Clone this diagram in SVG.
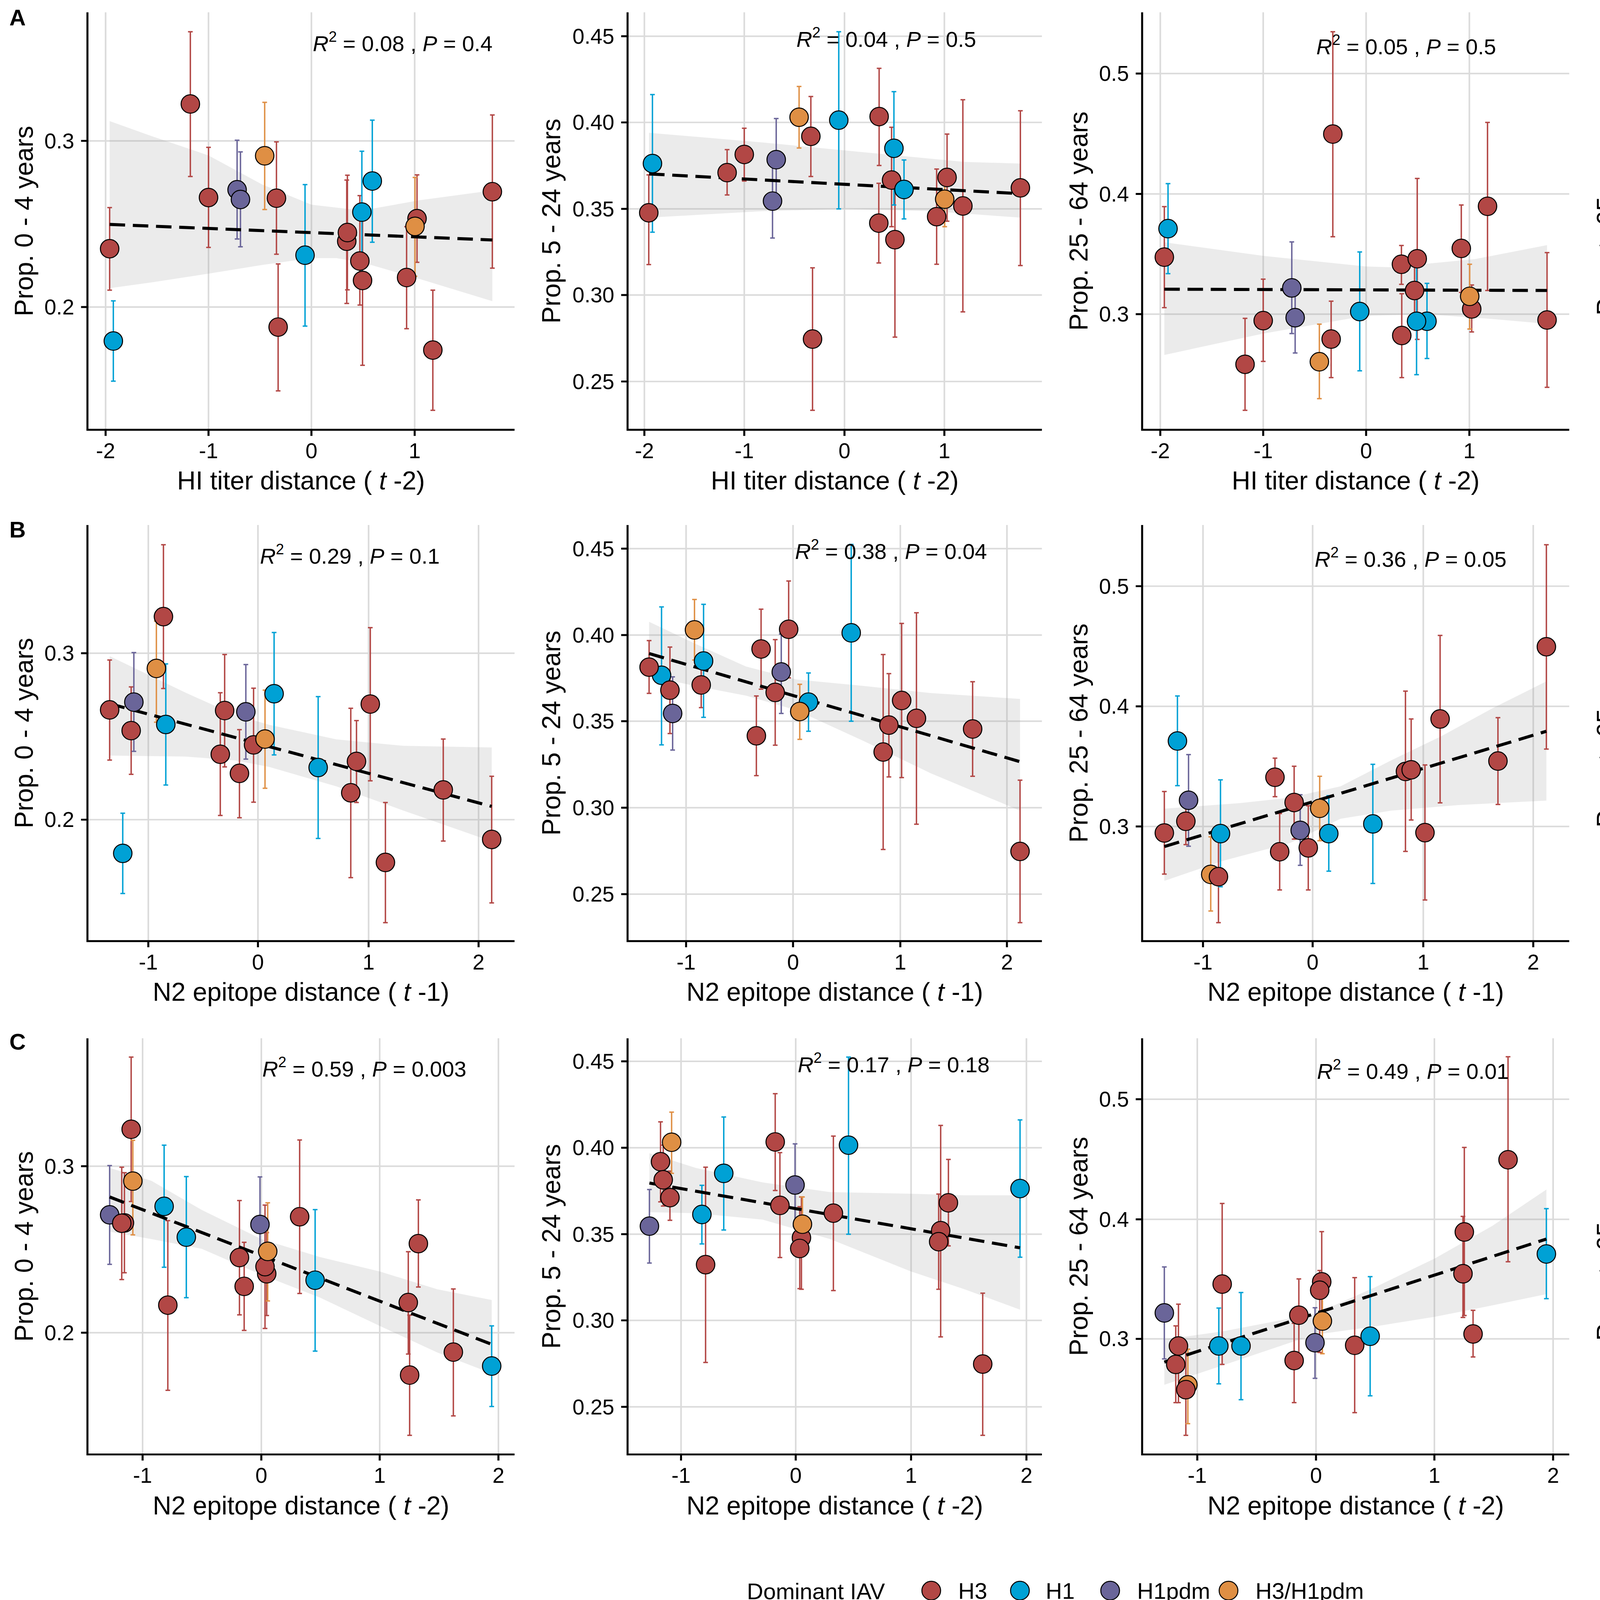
<svg xmlns="http://www.w3.org/2000/svg" xmlns:xlink="http://www.w3.org/1999/xlink" width="5400" height="4200" viewBox="0 0 5400 4200">
<style>
text{font-family:"Liberation Sans",Arial,Helvetica,sans-serif;fill:#000}
.ty{font-size:55px;text-anchor:end}
.tx{font-size:55px;text-anchor:middle}
.xt{font-size:66px;text-anchor:middle}
.yt{font-size:66px;text-anchor:middle}
.an{font-size:56px}
.lab{font-size:58px;font-weight:bold}
.lg{font-size:58px}
.grid{stroke:#DBDBDB;stroke-width:4.8;fill:none}
.axis{stroke:#000;stroke-width:6;fill:none}
.rib{fill:#999999;fill-opacity:0.2;stroke:none}
.fit{stroke:#000;stroke-width:9.5;stroke-dasharray:46 23;fill:none}
.er,.eb,.ep,.eo{stroke-width:4.2;fill:none}
.er{stroke:#B24745;marker:url(#capR)}
.eb{stroke:#00A1D5;marker:url(#capB)}
.ep{stroke:#6A6599;marker:url(#capP)}
.eo{stroke:#DF8F44;marker:url(#capO)}
.r{fill:#B24745}.b{fill:#00A1D5}.p{fill:#6A6599}.o{fill:#DF8F44}
</style>
<defs>
<ellipse id="pt" rx="27.5" ry="28.6" stroke="#000" stroke-width="3"/>
<marker id="capR" markerUnits="userSpaceOnUse" orient="0" overflow="visible" markerWidth="1" markerHeight="1"><path d="M-7,0H7" stroke="#B24745" stroke-width="4.2"/></marker>
<marker id="capB" markerUnits="userSpaceOnUse" orient="0" overflow="visible" markerWidth="1" markerHeight="1"><path d="M-7,0H7" stroke="#00A1D5" stroke-width="4.2"/></marker>
<marker id="capP" markerUnits="userSpaceOnUse" orient="0" overflow="visible" markerWidth="1" markerHeight="1"><path d="M-7,0H7" stroke="#6A6599" stroke-width="4.2"/></marker>
<marker id="capO" markerUnits="userSpaceOnUse" orient="0" overflow="visible" markerWidth="1" markerHeight="1"><path d="M-7,0H7" stroke="#DF8F44" stroke-width="4.2"/></marker>
</defs>
<rect width="5400" height="4200" fill="#fff"/>

<text class="lab" x="24" y="65">A</text>
<text class="lab" x="24" y="1376">B</text>
<text class="lab" x="24" y="2687">C</text>

<!-- ===== Row A ===== -->
<g id="A1" transform="translate(0,0)">
<g transform="scale(0.86096,0.82905)">
<path class="grid" d="M314,38V1327M620,38V1327M926,38V1327M1233,38V1327M260,435H1530M260,948H1530"/>
<polygon class="rib" points="326,374 450,420 620,480 780,570 926,632 1076,650 1250,618 1464,588 1464,930 1250,862 1076,810 1000,797 926,797 780,818 620,845 450,872 326,890"/>
<path class="er" d="M326,641V896M566,98V545M620,455V764M822,438V785M827,815V1207M1031,556V937M1033,541V895M1070,604V942M1078,660V1128M1209,700V1015M1240,540V810M1287,896V1267M1464,355V828"/>
<path class="eb" d="M337,929V1177M907,570V1007M1076,467V840M1107,371V748"/>
<path class="ep" d="M705,433V738M715,469V762"/>
<path class="eo" d="M787,316V647M1234,548V853"/>
<path class="fit" d="M326,693L1464,741"/>
<use href="#pt" x="326" y="768" class="r"/><use href="#pt" x="337" y="1053" class="b"/><use href="#pt" x="566" y="321" class="r"/><use href="#pt" x="620" y="610" class="r"/><use href="#pt" x="705" y="586" class="p"/><use href="#pt" x="715" y="616" class="p"/><use href="#pt" x="787" y="481" class="o"/><use href="#pt" x="822" y="612" class="r"/><use href="#pt" x="827" y="1010" class="r"/><use href="#pt" x="907" y="788" class="b"/><use href="#pt" x="1031" y="745" class="r"/><use href="#pt" x="1033" y="718" class="r"/><use href="#pt" x="1070" y="806" class="r"/><use href="#pt" x="1078" y="866" class="r"/><use href="#pt" x="1076" y="655" class="b"/><use href="#pt" x="1107" y="559" class="b"/><use href="#pt" x="1209" y="857" class="r"/><use href="#pt" x="1240" y="675" class="r"/><use href="#pt" x="1234" y="699" class="o"/><use href="#pt" x="1287" y="1081" class="r"/><use href="#pt" x="1464" y="592" class="r"/>
<path class="axis" d="M260,38V1327H1530M241,435h19M241,948h19M314,1327v19M620,1327v19M926,1327v19M1233,1327v19"/>
</g>
<text class="ty" x="190" y="379.6">0.3</text><text class="ty" x="190" y="804.9">0.2</text>
<text class="tx" x="270.3" y="1173">-2</text><text class="tx" x="533.8" y="1173">-1</text><text class="tx" x="797.3" y="1173">0</text><text class="tx" x="1061.6" y="1173">1</text>
<text class="xt" x="770.6" y="1253">HI titer distance ( <tspan font-style="italic">t</tspan> -2)</text>
<text class="yt" transform="translate(83.5,565.9) rotate(-90)">Prop. 0 - 4 years</text>
<text class="an" x="800.7" y="131"><tspan font-style="italic">R</tspan><tspan dy="-24" font-size="38">2</tspan><tspan dy="24"> = 0.08 , </tspan><tspan font-style="italic">P</tspan><tspan> = 0.4</tspan></text>
</g>

<g id="A2" transform="translate(1350,0)">
<g transform="scale(0.86096,0.82905)">
<path class="grid" d="M348,38V1327M645,38V1327M943,38V1327M1240,38V1327M298,112H1530M298,378H1530M298,645H1530M298,911H1530M298,1178H1530"/>
<polygon class="rib" points="362,410 700,440 1000,470 1300,500 1466,505 1466,672 1200,652 950,645 700,652 362,672"/>
<path class="er" d="M361,540V817M594,462V602M645,396V559M843,298V545M848,827V1267M1046,211V511M1045,566V812M1083,393V700M1093,560V1041M1217,522V816M1248,414V683M1295,308V963M1466,342V820"/>
<path class="eb" d="M372,292V717M926,98V645M1090,283V633M1120,494V676"/>
<path class="ep" d="M740,366V610M729,510V735"/>
<path class="eo" d="M808,267V457M1241,540V700"/>
<path class="fit" d="M362,537L1466,598"/>
<use href="#pt" x="361" y="657" class="r"/><use href="#pt" x="372" y="505" class="b"/><use href="#pt" x="594" y="533" class="r"/><use href="#pt" x="645" y="477" class="r"/><use href="#pt" x="729" y="621" class="p"/><use href="#pt" x="740" y="493" class="p"/><use href="#pt" x="808" y="362" class="o"/><use href="#pt" x="843" y="421" class="r"/><use href="#pt" x="848" y="1047" class="r"/><use href="#pt" x="926" y="371" class="b"/><use href="#pt" x="1046" y="360" class="r"/><use href="#pt" x="1045" y="689" class="r"/><use href="#pt" x="1083" y="556" class="r"/><use href="#pt" x="1090" y="458" class="b"/><use href="#pt" x="1093" y="740" class="r"/><use href="#pt" x="1120" y="585" class="b"/><use href="#pt" x="1217" y="669" class="r"/><use href="#pt" x="1248" y="548" class="r"/><use href="#pt" x="1241" y="615" class="o"/><use href="#pt" x="1295" y="636" class="r"/><use href="#pt" x="1466" y="580" class="r"/>
<path class="axis" d="M298,38V1327H1530M279,112h19M279,378h19M279,645h19M279,911h19M279,1178h19M348,1327v19M645,1327v19M943,1327v19M1240,1327v19"/>
</g>
<text class="ty" x="222.6" y="111.9">0.45</text><text class="ty" x="222.6" y="332.4">0.40</text><text class="ty" x="222.6" y="553.7">0.35</text><text class="ty" x="222.6" y="774.3">0.30</text><text class="ty" x="222.6" y="995.6">0.25</text>
<text class="tx" x="299.6" y="1173">-2</text><text class="tx" x="555.3" y="1173">-1</text><text class="tx" x="811.9" y="1173">0</text><text class="tx" x="1067.6" y="1173">1</text>
<text class="xt" x="787" y="1253">HI titer distance ( <tspan font-style="italic">t</tspan> -2)</text>
<text class="yt" transform="translate(83.5,565.9) rotate(-90)">Prop. 5 - 24 years</text>
<text class="an" x="688.8" y="120.2"><tspan font-style="italic">R</tspan><tspan dy="-24" font-size="38">2</tspan><tspan dy="24"> = 0.04 , </tspan><tspan font-style="italic">P</tspan><tspan> = 0.5</tspan></text>
</g>

<g id="A3" transform="translate(2700,0)">
<g transform="scale(0.86096,0.82905)">
<path class="grid" d="M314,38V1327M620,38V1327M926,38V1327M1233,38V1327M260,227H1530M260,599H1530M260,970H1530"/>
<polygon class="rib" points="326,748 620,790 926,823 1000,825 1250,800 1464,757 1464,1000 1300,985 1100,970 926,975 620,1030 326,1096"/>
<path class="er" d="M326,638V950M566,983V1267M620,862V1116M822,930V1166M827,98V731M1031,758V878M1032,907V1166M1078,551V1048M1070,780V1010M1209,633V903M1240,880V1025M1287,378V897M1464,780V1196"/>
<path class="eb" d="M337,567V845M907,778V1145M1076,820V1157M1107,875V1107"/>
<path class="ep" d="M705,747V1030M715,890V1090"/>
<path class="eo" d="M787,1001V1231M1234,816V1016"/>
<path class="fit" d="M326,893L1464,897"/>
<use href="#pt" x="326" y="794" class="r"/><use href="#pt" x="337" y="706" class="b"/><use href="#pt" x="566" y="1125" class="r"/><use href="#pt" x="620" y="990" class="r"/><use href="#pt" x="705" y="889" class="p"/><use href="#pt" x="715" y="981" class="p"/><use href="#pt" x="787" y="1117" class="o"/><use href="#pt" x="822" y="1047" class="r"/><use href="#pt" x="827" y="414" class="r"/><use href="#pt" x="907" y="962" class="b"/><use href="#pt" x="1031" y="816" class="r"/><use href="#pt" x="1032" y="1036" class="r"/><use href="#pt" x="1078" y="799" class="r"/><use href="#pt" x="1070" y="897" class="r"/><use href="#pt" x="1107" y="992" class="b"/><use href="#pt" x="1076" y="992" class="b"/><use href="#pt" x="1209" y="767" class="r"/><use href="#pt" x="1240" y="954" class="r"/><use href="#pt" x="1234" y="915" class="o"/><use href="#pt" x="1287" y="637" class="r"/><use href="#pt" x="1464" y="988" class="r"/>
<path class="axis" d="M260,38V1327H1530M241,227h19M241,599h19M241,970h19M314,1327v19M620,1327v19M926,1327v19M1233,1327v19"/>
</g>
<text class="ty" x="190" y="207.2">0.5</text><text class="ty" x="190" y="515.6">0.4</text><text class="ty" x="190" y="823.2">0.3</text>
<text class="tx" x="270.3" y="1173">-2</text><text class="tx" x="533.8" y="1173">-1</text><text class="tx" x="797.3" y="1173">0</text><text class="tx" x="1061.6" y="1173">1</text>
<text class="xt" x="770.6" y="1253">HI titer distance ( <tspan font-style="italic">t</tspan> -2)</text>
<text class="yt" transform="translate(83.5,565.9) rotate(-90)">Prop. 25 - 64 years</text>
<text class="an" x="669.8" y="139.3"><tspan font-style="italic">R</tspan><tspan dy="-24" font-size="38">2</tspan><tspan dy="24"> = 0.05 , </tspan><tspan font-style="italic">P</tspan><tspan> = 0.5</tspan></text>
</g>

<g id="A4" transform="translate(4050,0)">
<g transform="scale(0.86096,0.82905)">
<path class="grid" d="M348,38V1327M645,38V1327M943,38V1327M1240,38V1327M298,123H1530M298,420H1530M298,718H1530M298,1016H1530M298,1313H1530"/>
<polygon class="rib" points="362,938 700,910 943,880 1100,830 1300,720 1466,635 1466,870 1300,895 1100,940 943,985 800,1030 600,1090 362,1160"/>
<path class="er" d="M361,751V1089M594,997V1267M645,926V1152M848,497V870M843,869V1096M1046,648V1062M1046,780V1028M1083,594V943M1092,98V1028M1217,588V1010M1248,711V1043M1294,388V1161M1466,668V1096"/>
<path class="eb" d="M372,704V1080M926,725V1208M1090,804V1161M1120,779V1083"/>
<path class="ep" d="M740,873V1165M729,987V1189"/>
<path class="eo" d="M808,1073V1247M1241,646V968"/>
<path class="fit" d="M362,1038L1466,780"/>
<use href="#pt" x="372" y="891" class="b"/><use href="#pt" x="361" y="919" class="r"/><use href="#pt" x="594" y="1132" class="r"/><use href="#pt" x="645" y="1038" class="r"/><use href="#pt" x="740" y="1018" class="p"/><use href="#pt" x="729" y="1087" class="p"/><use href="#pt" x="808" y="1160" class="o"/><use href="#pt" x="848" y="743" class="r"/><use href="#pt" x="843" y="982" class="r"/><use href="#pt" x="926" y="966" class="b"/><use href="#pt" x="1046" y="839" class="r"/><use href="#pt" x="1046" y="919" class="r"/><use href="#pt" x="1083" y="761" class="r"/><use href="#pt" x="1092" y="563" class="r"/><use href="#pt" x="1090" y="983" class="b"/><use href="#pt" x="1120" y="931" class="b"/><use href="#pt" x="1217" y="797" class="r"/><use href="#pt" x="1241" y="807" class="o"/><use href="#pt" x="1248" y="877" class="r"/><use href="#pt" x="1294" y="775" class="r"/><use href="#pt" x="1466" y="882" class="r"/>
<path class="axis" d="M298,38V1327H1530M279,123h19M279,420h19M279,718h19M279,1016h19M279,1313h19M348,1327v19M645,1327v19M943,1327v19M1240,1327v19"/>
</g>
<text class="ty" x="222.6" y="121">0.15</text><text class="ty" x="222.6" y="367.2">0.12</text><text class="ty" x="222.6" y="614.3">0.09</text><text class="ty" x="222.6" y="861.3">0.06</text><text class="ty" x="222.6" y="1107.5">0.03</text>
<text class="tx" x="299.6" y="1173">-2</text><text class="tx" x="555.3" y="1173">-1</text><text class="tx" x="811.9" y="1173">0</text><text class="tx" x="1067.6" y="1173">1</text>
<text class="xt" x="787" y="1253">HI titer distance ( <tspan font-style="italic">t</tspan> -2)</text>
<text class="yt" transform="translate(83.5,565.9) rotate(-90)">Prop. ≥ 65 years</text>
<text class="an" x="688.8" y="128.5"><tspan font-style="italic">R</tspan><tspan dy="-24" font-size="38">2</tspan><tspan dy="24"> = 0.26 , </tspan><tspan font-style="italic">P</tspan><tspan> = 0.03</tspan></text>
</g>

<!-- ===== Row B ===== -->
<g id="B1" transform="translate(0,1300)">
<g transform="scale(0.86096,0.82905)">
<path class="grid" d="M441,53V1338M767,53V1338M1096,53V1338M1423,53V1338M260,449H1530M260,963H1530"/>
<polygon class="rib" points="326,458 550,570 700,640 800,670 1000,715 1200,735 1462,740 1462,1030 1200,935 1000,860 800,800 700,780 550,768 326,765"/>
<path class="er" d="M326,470V779M390,553V823M486,114V558M655,571V950M668,453V800M712,685V957M754,557V909M1043,619V1142M1060,657V910M1101,370V843M1146,910V1281M1318,714V1029M1462,829V1220"/>
<path class="eb" d="M365,943V1191M493,482V856M815,385V763M946,583V1021"/>
<path class="ep" d="M398,447V752M731,484V776"/>
<path class="eo" d="M465,350V662M788,563V866"/>
<path class="fit" d="M326,605L1462,922"/>
<use href="#pt" x="326" y="624" class="r"/><use href="#pt" x="365" y="1067" class="b"/><use href="#pt" x="390" y="688" class="r"/><use href="#pt" x="398" y="600" class="p"/><use href="#pt" x="465" y="496" class="o"/><use href="#pt" x="486" y="336" class="r"/><use href="#pt" x="493" y="669" class="b"/><use href="#pt" x="655" y="761" class="r"/><use href="#pt" x="668" y="626" class="r"/><use href="#pt" x="712" y="820" class="r"/><use href="#pt" x="731" y="630" class="p"/><use href="#pt" x="754" y="732" class="r"/><use href="#pt" x="788" y="714" class="o"/><use href="#pt" x="815" y="574" class="b"/><use href="#pt" x="946" y="802" class="b"/><use href="#pt" x="1043" y="880" class="r"/><use href="#pt" x="1060" y="783" class="r"/><use href="#pt" x="1101" y="606" class="r"/><use href="#pt" x="1146" y="1095" class="r"/><use href="#pt" x="1318" y="871" class="r"/><use href="#pt" x="1462" y="1024" class="r"/>
<path class="axis" d="M260,53V1338H1530M241,449h19M241,963h19M441,1338v19M767,1338v19M1096,1338v19M1423,1338v19"/>
</g>
<text class="ty" x="190" y="391.2">0.3</text><text class="ty" x="190" y="817.4">0.2</text>
<text class="tx" x="379.7" y="1182.3">-1</text><text class="tx" x="660.4" y="1182.3">0</text><text class="tx" x="943.6" y="1182.3">1</text><text class="tx" x="1225.1" y="1182.3">2</text>
<text class="xt" x="770.6" y="1262">N2 epitope distance ( <tspan font-style="italic">t</tspan> -1)</text>
<text class="yt" transform="translate(83.5,576.6) rotate(-90)">Prop. 0 - 4 years</text>
<text class="an" x="665.5" y="142.6"><tspan font-style="italic">R</tspan><tspan dy="-24" font-size="38">2</tspan><tspan dy="24"> = 0.29 , </tspan><tspan font-style="italic">P</tspan><tspan> = 0.1</tspan></text>
</g>

<g id="B2" transform="translate(1350,1300)">
<g transform="scale(0.86096,0.82905)">
<path class="grid" d="M472,53V1338M790,53V1338M1109,53V1338M1426,53V1338M298,126H1530M298,393H1530M298,659H1530M298,926H1530M298,1193H1530"/>
<polygon class="rib" points="362,352 500,420 650,490 800,530 1000,550 1200,572 1465,590 1465,935 1200,820 1000,720 800,625 650,580 500,550 362,520"/>
<path class="er" d="M362,410V573M424,430V697M517,470V617M681,581V827M695,313V560M737,407V733M777,226V525M1058,453V1055M1075,512V831M1113,357V833M1157,324V977M1324,537V829M1465,841V1281"/>
<path class="eb" d="M399,306V732M524,298V647M836,510V690M963,113V659"/>
<path class="ep" d="M432,522V748M755,390V635"/>
<path class="eo" d="M497,283V470M810,545V715"/>
<path class="fit" d="M362,450L1465,784"/>
<use href="#pt" x="399" y="517" class="b"/><use href="#pt" x="362" y="492" class="r"/><use href="#pt" x="424" y="563" class="r"/><use href="#pt" x="432" y="635" class="p"/><use href="#pt" x="497" y="377" class="o"/><use href="#pt" x="524" y="473" class="b"/><use href="#pt" x="517" y="547" class="r"/><use href="#pt" x="681" y="704" class="r"/><use href="#pt" x="695" y="436" class="r"/><use href="#pt" x="737" y="570" class="r"/><use href="#pt" x="755" y="507" class="p"/><use href="#pt" x="777" y="375" class="r"/><use href="#pt" x="836" y="600" class="b"/><use href="#pt" x="810" y="629" class="o"/><use href="#pt" x="963" y="386" class="b"/><use href="#pt" x="1058" y="754" class="r"/><use href="#pt" x="1075" y="671" class="r"/><use href="#pt" x="1113" y="595" class="r"/><use href="#pt" x="1157" y="650" class="r"/><use href="#pt" x="1324" y="683" class="r"/><use href="#pt" x="1465" y="1061" class="r"/>
<path class="axis" d="M298,53V1338H1530M279,126h19M279,393h19M279,659h19M279,926h19M279,1193h19M472,1338v19M790,1338v19M1109,1338v19M1426,1338v19"/>
</g>
<text class="ty" x="222.6" y="123.5">0.45</text><text class="ty" x="222.6" y="344.8">0.40</text><text class="ty" x="222.6" y="565.3">0.35</text><text class="ty" x="222.6" y="786.7">0.30</text><text class="ty" x="222.6" y="1008.1">0.25</text>
<text class="tx" x="406.4" y="1182.3">-1</text><text class="tx" x="680.2" y="1182.3">0</text><text class="tx" x="954.8" y="1182.3">1</text><text class="tx" x="1227.7" y="1182.3">2</text>
<text class="xt" x="787" y="1262">N2 epitope distance ( <tspan font-style="italic">t</tspan> -1)</text>
<text class="yt" transform="translate(83.5,576.6) rotate(-90)">Prop. 5 - 24 years</text>
<text class="an" x="685.3" y="131"><tspan font-style="italic">R</tspan><tspan dy="-24" font-size="38">2</tspan><tspan dy="24"> = 0.38 , </tspan><tspan font-style="italic">P</tspan><tspan> = 0.04</tspan></text>
</g>

<g id="B3" transform="translate(2700,1300)">
<g transform="scale(0.86096,0.82905)">
<path class="grid" d="M441,53V1338M767,53V1338M1096,53V1338M1423,53V1338M260,242H1530M260,613H1530M260,984H1530"/>
<polygon class="rib" points="326,929 550,912 700,895 850,860 1000,780 1150,705 1300,620 1462,536 1462,904 1200,918 1000,935 850,960 700,1035 500,1090 326,1152"/>
<path class="er" d="M326,876V1131M390,880V1040M487,1030V1281M655,773V892M669,944V1180M712,798V1023M754,920V1180M1043,566V1061M1060,652V964M1101,794V1211M1146,394V911M1318,648V916M1462,114V745"/>
<path class="eb" d="M365,581V858M493,840V1170M815,889V1122M946,792V1160"/>
<path class="ep" d="M398,762V1045M730,886V1104"/>
<path class="eo" d="M464,1016V1245M788,829V1028"/>
<path class="fit" d="M326,1046L1462,690"/>
<use href="#pt" x="326" y="1004" class="r"/><use href="#pt" x="365" y="720" class="b"/><use href="#pt" x="398" y="903" class="p"/><use href="#pt" x="390" y="968" class="r"/><use href="#pt" x="464" y="1132" class="o"/><use href="#pt" x="487" y="1139" class="r"/><use href="#pt" x="493" y="1006" class="b"/><use href="#pt" x="655" y="832" class="r"/><use href="#pt" x="669" y="1062" class="r"/><use href="#pt" x="712" y="910" class="r"/><use href="#pt" x="730" y="996" class="p"/><use href="#pt" x="754" y="1050" class="r"/><use href="#pt" x="788" y="928" class="o"/><use href="#pt" x="815" y="1006" class="b"/><use href="#pt" x="946" y="976" class="b"/><use href="#pt" x="1043" y="814" class="r"/><use href="#pt" x="1060" y="809" class="r"/><use href="#pt" x="1101" y="1003" class="r"/><use href="#pt" x="1146" y="652" class="r"/><use href="#pt" x="1318" y="782" class="r"/><use href="#pt" x="1462" y="429" class="r"/>
<path class="axis" d="M260,53V1338H1530M241,242h19M241,613h19M241,984h19M441,1338v19M767,1338v19M1096,1338v19M1423,1338v19"/>
</g>
<text class="ty" x="190" y="219.6">0.5</text><text class="ty" x="190" y="527.2">0.4</text><text class="ty" x="190" y="834.8">0.3</text>
<text class="tx" x="379.7" y="1182.3">-1</text><text class="tx" x="660.4" y="1182.3">0</text><text class="tx" x="943.6" y="1182.3">1</text><text class="tx" x="1225.1" y="1182.3">2</text>
<text class="xt" x="770.6" y="1262">N2 epitope distance ( <tspan font-style="italic">t</tspan> -1)</text>
<text class="yt" transform="translate(83.5,576.6) rotate(-90)">Prop. 25 - 64 years</text>
<text class="an" x="665.5" y="150.9"><tspan font-style="italic">R</tspan><tspan dy="-24" font-size="38">2</tspan><tspan dy="24"> = 0.36 , </tspan><tspan font-style="italic">P</tspan><tspan> = 0.05</tspan></text>
</g>

<g id="B4" transform="translate(4050,1300)">
<g transform="scale(0.86096,0.82905)">
<path class="grid" d="M472,53V1338M790,53V1338M1109,53V1338M1426,53V1338M298,138H1530M298,435H1530M298,733H1530M298,1031H1530M298,1328H1530"/>
<polygon class="rib" points="362,960 600,935 800,890 1000,800 1200,690 1465,567 1465,813 1200,862 1000,925 800,985 600,1040 362,1103"/>
<path class="er" d="M362,940V1166M424,725V1058M517,1030V1281M681,662V1043M695,884V1110M737,595V958M777,793V1076M1058,113V1041M1075,766V1103M1113,682V1110M1157,404V1174M1324,601V1023M1465,511V1003"/>
<path class="eb" d="M399,717V1093M524,820V1150M836,793V1098M964,740V1222"/>
<path class="ep" d="M432,1001V1202M755,886V1179"/>
<path class="eo" d="M497,1086V1261M810,660V983"/>
<path class="fit" d="M362,1030L1465,720"/>
<use href="#pt" x="362" y="1053" class="r"/><use href="#pt" x="399" y="905" class="b"/><use href="#pt" x="424" y="891" class="r"/><use href="#pt" x="432" y="1102" class="p"/><use href="#pt" x="497" y="1175" class="o"/><use href="#pt" x="517" y="1147" class="r"/><use href="#pt" x="524" y="998" class="b"/><use href="#pt" x="681" y="852" class="r"/><use href="#pt" x="695" y="997" class="r"/><use href="#pt" x="737" y="776" class="r"/><use href="#pt" x="755" y="1033" class="p"/><use href="#pt" x="777" y="934" class="r"/><use href="#pt" x="810" y="821" class="o"/><use href="#pt" x="836" y="945" class="b"/><use href="#pt" x="964" y="981" class="b"/><use href="#pt" x="1058" y="577" class="r"/><use href="#pt" x="1075" y="933" class="r"/><use href="#pt" x="1113" y="895" class="r"/><use href="#pt" x="1157" y="788" class="r"/><use href="#pt" x="1324" y="812" class="r"/><use href="#pt" x="1465" y="757" class="r"/>
<path class="axis" d="M298,53V1338H1530M279,138h19M279,435h19M279,733h19M279,1031h19M279,1328h19M472,1338v19M790,1338v19M1109,1338v19M1426,1338v19"/>
</g>
<text class="ty" x="222.6" y="133.4">0.15</text><text class="ty" x="222.6" y="379.6">0.12</text><text class="ty" x="222.6" y="626.7">0.09</text><text class="ty" x="222.6" y="873.8">0.06</text><text class="ty" x="222.6" y="1120">0.03</text>
<text class="tx" x="406.4" y="1182.3">-1</text><text class="tx" x="680.2" y="1182.3">0</text><text class="tx" x="954.8" y="1182.3">1</text><text class="tx" x="1227.7" y="1182.3">2</text>
<text class="xt" x="787" y="1262">N2 epitope distance ( <tspan font-style="italic">t</tspan> -1)</text>
<text class="yt" transform="translate(83.5,576.6) rotate(-90)">Prop. ≥ 65 years</text>
<text class="an" x="685.3" y="139.3"><tspan font-style="italic">R</tspan><tspan dy="-24" font-size="38">2</tspan><tspan dy="24"> = 0.39 , </tspan><tspan font-style="italic">P</tspan><tspan> = 0.01</tspan></text>
</g>

<!-- ===== Row C ===== -->
<g id="C1" transform="translate(0,2600)">
<g transform="scale(0.86096,0.82905)">
<path class="grid" d="M424,70V1355M777,70V1355M1129,70V1355M1482,70V1355M260,465H1530M260,979H1530"/>
<polygon class="rib" points="326,470 450,510 600,600 777,690 950,745 1129,790 1300,845 1462,878 1462,1105 1300,1040 1129,958 950,870 777,800 600,720 450,690 326,667"/>
<path class="er" d="M362,468V815M370,485V794M390,128V574M499,633V1157M712,571V924M726,700V972M788,585V966M793,670V926M891,384V858M1214,729V1045M1218,925V1296M1244,569V838M1348,844V1236"/>
<path class="eb" d="M488,400V777M554,497V871M937,599V1036M1462,958V1207"/>
<path class="ep" d="M326,463V768M773,498V780"/>
<path class="eo" d="M395,385V677M796,578V881"/>
<path class="fit" d="M326,560L1462,1015"/>
<use href="#pt" x="326" y="615" class="p"/><use href="#pt" x="370" y="640" class="r"/><use href="#pt" x="362" y="641" class="r"/><use href="#pt" x="390" y="351" class="r"/><use href="#pt" x="395" y="511" class="o"/><use href="#pt" x="488" y="589" class="b"/><use href="#pt" x="499" y="894" class="r"/><use href="#pt" x="554" y="684" class="b"/><use href="#pt" x="712" y="747" class="r"/><use href="#pt" x="726" y="836" class="r"/><use href="#pt" x="773" y="645" class="p"/><use href="#pt" x="793" y="797" class="r"/><use href="#pt" x="788" y="775" class="r"/><use href="#pt" x="796" y="728" class="o"/><use href="#pt" x="891" y="621" class="r"/><use href="#pt" x="937" y="817" class="b"/><use href="#pt" x="1214" y="886" class="r"/><use href="#pt" x="1218" y="1110" class="r"/><use href="#pt" x="1244" y="704" class="r"/><use href="#pt" x="1348" y="1039" class="r"/><use href="#pt" x="1462" y="1082" class="b"/>
<path class="axis" d="M260,70V1355H1530M241,465h19M241,979h19M424,1355v19M777,1355v19M1129,1355v19M1482,1355v19"/>
</g>
<text class="ty" x="190" y="404.5">0.3</text><text class="ty" x="190" y="830.6">0.2</text>
<text class="tx" x="365" y="1196.4">-1</text><text class="tx" x="669" y="1196.4">0</text><text class="tx" x="972" y="1196.4">1</text><text class="tx" x="1276" y="1196.4">2</text>
<text class="xt" x="770.6" y="1276.5">N2 epitope distance ( <tspan font-style="italic">t</tspan> -2)</text>
<text class="yt" transform="translate(83.5,590.7) rotate(-90)">Prop. 0 - 4 years</text>
<text class="an" x="671.5" y="155.9"><tspan font-style="italic">R</tspan><tspan dy="-24" font-size="38">2</tspan><tspan dy="24"> = 0.59 , </tspan><tspan font-style="italic">P</tspan><tspan> = 0.003</tspan></text>
</g>

<g id="C2" transform="translate(1350,2600)">
<g transform="scale(0.86096,0.82905)">
<path class="grid" d="M457,70V1355M798,70V1355M1141,70V1355M1484,70V1355M298,141H1530M298,408H1530M298,675H1530M298,941H1530M298,1208H1530"/>
<polygon class="rib" points="363,425 500,470 700,515 900,545 1141,550 1300,555 1465,555 1465,908 1300,845 1141,790 900,690 700,630 500,610 363,607"/>
<path class="er" d="M396,328V575M404,400V588M424,480V632M530,468V1071M737,241V540M751,423V747M815,560V845M810,590V843M910,372V849M1229,339V992M1223,551V845M1252,444V711M1354,857V1296"/>
<path class="eb" d="M519,524V705M584,313V662M955,128V675M1465,322V746"/>
<path class="ep" d="M363,537V764M796,396V650"/>
<path class="eo" d="M429,298V487M818,560V740"/>
<path class="fit" d="M363,517L1465,717"/>
<use href="#pt" x="363" y="650" class="p"/><use href="#pt" x="429" y="391" class="o"/><use href="#pt" x="396" y="451" class="r"/><use href="#pt" x="404" y="507" class="r"/><use href="#pt" x="424" y="562" class="r"/><use href="#pt" x="519" y="614" class="b"/><use href="#pt" x="530" y="769" class="r"/><use href="#pt" x="584" y="487" class="b"/><use href="#pt" x="737" y="390" class="r"/><use href="#pt" x="751" y="586" class="r"/><use href="#pt" x="796" y="523" class="p"/><use href="#pt" x="815" y="686" class="r"/><use href="#pt" x="810" y="719" class="r"/><use href="#pt" x="818" y="644" class="o"/><use href="#pt" x="910" y="610" class="r"/><use href="#pt" x="955" y="400" class="b"/><use href="#pt" x="1229" y="664" class="r"/><use href="#pt" x="1223" y="698" class="r"/><use href="#pt" x="1252" y="578" class="r"/><use href="#pt" x="1354" y="1076" class="r"/><use href="#pt" x="1465" y="534" class="b"/>
<path class="axis" d="M298,70V1355H1530M279,141h19M279,408h19M279,675h19M279,941h19M279,1208h19M457,1355v19M798,1355v19M1141,1355v19M1484,1355v19"/>
</g>
<text class="ty" x="222.6" y="135.9">0.45</text><text class="ty" x="222.6" y="357.3">0.40</text><text class="ty" x="222.6" y="578.6">0.35</text><text class="ty" x="222.6" y="799.1">0.30</text><text class="ty" x="222.6" y="1020.5">0.25</text>
<text class="tx" x="393.5" y="1196.4">-1</text><text class="tx" x="687" y="1196.4">0</text><text class="tx" x="982.4" y="1196.4">1</text><text class="tx" x="1277.7" y="1196.4">2</text>
<text class="xt" x="787" y="1276.5">N2 epitope distance ( <tspan font-style="italic">t</tspan> -2)</text>
<text class="yt" transform="translate(83.5,590.7) rotate(-90)">Prop. 5 - 24 years</text>
<text class="an" x="692.2" y="145.1"><tspan font-style="italic">R</tspan><tspan dy="-24" font-size="38">2</tspan><tspan dy="24"> = 0.17 , </tspan><tspan font-style="italic">P</tspan><tspan> = 0.18</tspan></text>
</g>

<g id="C3" transform="translate(2700,2600)">
<g transform="scale(0.86096,0.82905)">
<path class="grid" d="M424,70V1355M777,70V1355M1129,70V1355M1482,70V1355M260,258H1530M260,629H1530M260,998H1530"/>
<polygon class="rib" points="326,1000 500,975 700,935 776,920 950,840 1130,750 1300,650 1462,537 1462,860 1300,895 1130,930 950,960 776,985 700,1010 500,1080 326,1140"/>
<path class="er" d="M368,891V1195M360,958V1195M390,1030V1296M498,580V1077M712,950V1195M726,813V1066M794,667V960M788,787V1040M892,809V1226M1214,620V932M1218,407V926M1244,910V1054M1348,127V760"/>
<path class="eb" d="M488,903V1137M554,855V1186M938,806V1174M1462,596V874"/>
<path class="ep" d="M326,776V1060M774,902V1120"/>
<path class="eo" d="M396,1030V1260M796,870V1044"/>
<path class="fit" d="M326,1070L1462,690"/>
<use href="#pt" x="326" y="918" class="p"/><use href="#pt" x="368" y="1020" class="r"/><use href="#pt" x="360" y="1077" class="r"/><use href="#pt" x="396" y="1140" class="o"/><use href="#pt" x="390" y="1155" class="r"/><use href="#pt" x="488" y="1020" class="b"/><use href="#pt" x="498" y="829" class="r"/><use href="#pt" x="554" y="1020" class="b"/><use href="#pt" x="712" y="1065" class="r"/><use href="#pt" x="726" y="925" class="r"/><use href="#pt" x="774" y="1010" class="p"/><use href="#pt" x="794" y="822" class="r"/><use href="#pt" x="788" y="848" class="r"/><use href="#pt" x="796" y="943" class="o"/><use href="#pt" x="892" y="1018" class="r"/><use href="#pt" x="938" y="990" class="b"/><use href="#pt" x="1214" y="797" class="r"/><use href="#pt" x="1218" y="668" class="r"/><use href="#pt" x="1244" y="983" class="r"/><use href="#pt" x="1348" y="445" class="r"/><use href="#pt" x="1462" y="736" class="b"/>
<path class="axis" d="M260,70V1355H1530M241,258h19M241,629h19M241,998h19M424,1355v19M777,1355v19M1129,1355v19M1482,1355v19"/>
</g>
<text class="ty" x="190" y="232.9">0.5</text><text class="ty" x="190" y="540.5">0.4</text><text class="ty" x="190" y="846.4">0.3</text>
<text class="tx" x="365" y="1196.4">-1</text><text class="tx" x="669" y="1196.4">0</text><text class="tx" x="972" y="1196.4">1</text><text class="tx" x="1276" y="1196.4">2</text>
<text class="xt" x="770.6" y="1276.5">N2 epitope distance ( <tspan font-style="italic">t</tspan> -2)</text>
<text class="yt" transform="translate(83.5,590.7) rotate(-90)">Prop. 25 - 64 years</text>
<text class="an" x="671.5" y="161.7"><tspan font-style="italic">R</tspan><tspan dy="-24" font-size="38">2</tspan><tspan dy="24"> = 0.49 , </tspan><tspan font-style="italic">P</tspan><tspan> = 0.01</tspan></text>
</g>

<g id="C4" transform="translate(4050,2600)">
<g transform="scale(0.86096,0.82905)">
<path class="grid" d="M457,70V1355M798,70V1355M1141,70V1355M1484,70V1355M298,153H1530M298,450H1530M298,748H1530M298,1046H1530M298,1343H1530"/>
<polygon class="rib" points="362,920 600,900 800,880 1000,840 1200,780 1466,680 1466,890 1200,930 1000,955 800,985 600,1030 362,1082"/>
<path class="er" d="M396,898V1128M404,955V1180M424,1025V1296M530,128V1056M736,823V1091M750,609V976M810,677V1118M816,780V1118M910,697V1126M1226,617V1190M1224,617V1040M1252,741V1074M1354,527V1019"/>
<path class="eb" d="M520,807V1113M582,834V1190M956,755V1237M1466,733V1109"/>
<path class="ep" d="M362,1016V1218M794,902V1194"/>
<path class="eo" d="M428,1101V1276M816,675V997"/>
<path class="fit" d="M362,1030L1466,785"/>
<use href="#pt" x="362" y="1117" class="p"/><use href="#pt" x="396" y="1012" class="r"/><use href="#pt" x="404" y="1067" class="r"/><use href="#pt" x="428" y="1189" class="o"/><use href="#pt" x="424" y="1160" class="r"/><use href="#pt" x="520" y="960" class="b"/><use href="#pt" x="530" y="592" class="r"/><use href="#pt" x="582" y="1012" class="b"/><use href="#pt" x="736" y="948" class="r"/><use href="#pt" x="750" y="790" class="r"/><use href="#pt" x="794" y="1048" class="p"/><use href="#pt" x="810" y="865" class="r"/><use href="#pt" x="816" y="948" class="r"/><use href="#pt" x="816" y="835" class="o"/><use href="#pt" x="910" y="913" class="r"/><use href="#pt" x="956" y="995" class="b"/><use href="#pt" x="1226" y="803" class="r"/><use href="#pt" x="1224" y="826" class="r"/><use href="#pt" x="1252" y="908" class="r"/><use href="#pt" x="1354" y="773" class="r"/><use href="#pt" x="1466" y="920" class="b"/>
<path class="axis" d="M298,70V1355H1530M279,153h19M279,450h19M279,748h19M279,1046h19M279,1343h19M457,1355v19M798,1355v19M1141,1355v19M1484,1355v19"/>
</g>
<text class="ty" x="222.6" y="145.8">0.15</text><text class="ty" x="222.6" y="392.1">0.12</text><text class="ty" x="222.6" y="639.1">0.09</text><text class="ty" x="222.6" y="886.2">0.06</text><text class="ty" x="222.6" y="1132.4">0.03</text>
<text class="tx" x="393.5" y="1196.4">-1</text><text class="tx" x="687" y="1196.4">0</text><text class="tx" x="982.4" y="1196.4">1</text><text class="tx" x="1277.7" y="1196.4">2</text>
<text class="xt" x="787" y="1276.5">N2 epitope distance ( <tspan font-style="italic">t</tspan> -2)</text>
<text class="yt" transform="translate(83.5,590.7) rotate(-90)">Prop. ≥ 65 years</text>
<text class="an" x="690.5" y="153.4"><tspan font-style="italic">R</tspan><tspan dy="-24" font-size="38">2</tspan><tspan dy="24"> = 0.33 , </tspan><tspan font-style="italic">P</tspan><tspan> = 0.05</tspan></text>
</g>

<!-- ===== Legend ===== -->
<g id="legend">
<text class="lg" x="1912" y="4094" font-size="62">Dominant IAV</text>
<circle cx="2384" cy="4072" r="24" class="r" stroke="#000" stroke-width="2.5"/>
<text class="lg" x="2453" y="4093">H3</text>
<circle cx="2611" cy="4072" r="24" class="b" stroke="#000" stroke-width="2.5"/>
<text class="lg" x="2677" y="4093">H1</text>
<circle cx="2842" cy="4072" r="24" class="p" stroke="#000" stroke-width="2.5"/>
<text class="lg" x="2911" y="4093">H1pdm</text>
<circle cx="3145" cy="4072" r="24" class="o" stroke="#000" stroke-width="2.5"/>
<text class="lg" x="3214" y="4093">H3/H1pdm</text>
</g>
</svg>
